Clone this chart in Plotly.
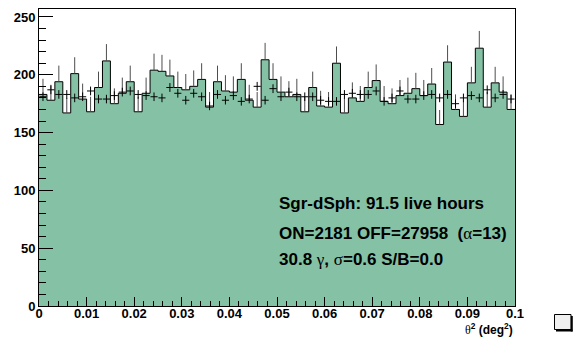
import numpy as np
import plotly.graph_objects as go

# ---------------- data ----------------
x_lo, x_hi, n_bins = 0.0, 0.1, 60
on_counts = [183, 178, 194, 167, 201, 179, 168, 189, 212, 175,
             184, 194, 168, 184, 204, 203, 199, 189, 187, 190,
             196, 172, 194, 186, 185, 196, 178, 172, 213, 196,
             185, 181, 183, 168, 189, 173, 172, 210, 167, 180,
             177, 189, 195, 177, 175, 182, 184, 188, 182, 192,
             157, 211, 170, 164, 193, 223, 172, 193, 185, 170]
off_scaled = [181, 187, 183, 183, 180, 181, 186, 179, 179, 182,
              185, 186, 183, 182, 181, 180, 189, 184, 178, 184,
              181, 173, 183, 178, 182, 177, 179, 190, 178, 188,
              181, 185, 181, 181, 181, 178, 177, 177, 183, 184,
              183, 183, 186, 177, 180, 186, 179, 179, 182, 183,
              180, 183, 175, 180, 182, 180, 187, 180, 183, 179]
alpha = 13
y_ticks = [0, 50, 100, 150, 200, 250]
x_ticks = [0, 0.01, 0.02, 0.03, 0.04, 0.05, 0.06, 0.07, 0.08, 0.09, 0.1]
x_tick_labels = ["0", "0.01", "0.02", "0.03", "0.04", "0.05",
                 "0.06", "0.07", "0.08", "0.09", "0.1"]

# ---------------- derived ----------------
edges = np.linspace(x_lo, x_hi, n_bins + 1)
centers = 0.5 * (edges[:-1] + edges[1:])
binw = (x_hi - x_lo) / n_bins
on = np.array(on_counts, dtype=float)
off = np.array(off_scaled, dtype=float)
on_err = np.sqrt(on)
off_err = np.sqrt(off * alpha) / alpha

GREEN = "#85C2A5"
fig = go.Figure()

# filled ON histogram with step outline
fig.add_trace(go.Scatter(
    x=edges, y=list(on) + [on[-1]], mode="lines",
    line=dict(shape="hv", color="black", width=1),
    fill="tozeroy", fillcolor=GREEN, hoverinfo="skip", showlegend=False))

# ON error bars (upper half visible)
fig.add_trace(go.Scatter(
    x=centers, y=on, mode="markers",
    marker=dict(size=1, color="rgba(0,0,0,0)"),
    error_y=dict(type="data", symmetric=False, array=on_err,
                 arrayminus=np.zeros(n_bins), color="#4d4d4d",
                 thickness=1, width=0),
    hoverinfo="skip", showlegend=False))

# OFF (scaled) crosses
fig.add_trace(go.Scatter(
    x=centers, y=off, mode="markers",
    marker=dict(size=1, color="rgba(0,0,0,0)"),
    error_y=dict(type="data", array=off_err, color="black",
                 thickness=1, width=0),
    error_x=dict(type="constant", value=binw * 0.45, color="black",
                 thickness=1, width=0),
    hoverinfo="skip", showlegend=False))

tickfont = dict(family="Liberation Sans", size=13, color="black", weight="bold")

fig.update_layout(
    width=582, height=337,
    margin=dict(l=39, r=67, t=9, b=31),
    paper_bgcolor="white", plot_bgcolor="white",
    showlegend=False,
    xaxis=dict(range=[x_lo, x_hi], showgrid=False, zeroline=False,
               showline=True, linecolor="black", linewidth=1, mirror=True,
               ticks="inside", ticklen=9, tickwidth=1, tickcolor="black",
               tickmode="array", tickvals=x_ticks, ticktext=x_tick_labels,
               tickfont=tickfont, ticklabelstandoff=-5,
               minor=dict(tick0=0, dtick=0.002,
                          ticks="inside", ticklen=5, tickwidth=1,
                          tickcolor="black", showgrid=False)),
    yaxis=dict(range=[0, 256.9], showgrid=False, zeroline=False,
               showline=True, linecolor="black", linewidth=1, mirror=True,
               ticks="inside", ticklen=14, tickwidth=1, tickcolor="black",
               tickmode="array", tickvals=y_ticks,
               ticktext=[str(v) for v in y_ticks],
               tickfont=tickfont,
               minor=dict(tick0=0, dtick=10, ticks="inside", ticklen=7,
                          tickwidth=1, tickcolor="black", showgrid=False)),
)

GREEK = "<span style='font-family:Liberation Serif;font-weight:normal'>%s</span>"
txt_font = dict(family="Liberation Sans", size=17, color="black")
lines = [
    ("<b>Sgr-dSph: 91.5 live hours</b>", 89.0),
    ("<b>ON=2181 OFF=27958 \u00a0(</b>" + GREEK % "α" + "<b>=13)</b>", 63.0),
    ("<b>30.8 </b>" + GREEK % "γ" + "<b>, </b>" + GREEK % "σ" + "<b>=0.6 S/B=0.0</b>", 40.5),
]
for t, yv in lines:
    fig.add_annotation(x=0.0500, y=yv, xref="x", yref="y", text=t,
                       showarrow=False, xanchor="left", yanchor="middle",
                       font=txt_font)

# axis title
fig.add_annotation(x=1.0, y=-0.078, xref="paper", yref="paper",
                   text=GREEK % "θ" + "<b><sup>2</sup> (deg<sup>2</sup>)</b>",
                   showarrow=False, xanchor="right", yanchor="middle",
                   font=dict(family="Liberation Sans", size=12, color="black"))

# small box at the right (pixel-based paper coords)
def px_x(p):
    return (p - 39) / 476.0

def px_y(p):
    return (306 - p) / 297.0

fig.add_shape(type="rect", xref="paper", yref="paper",
              x0=px_x(554.5), x1=px_x(571), y0=px_y(329.5), y1=px_y(314.5),
              line=dict(color="black", width=1), fillcolor="#f0f0f0")
fig.add_shape(type="line", xref="paper", yref="paper",
              x0=px_x(556), x1=px_x(572.5), y0=px_y(330.5), y1=px_y(330.5),
              line=dict(color="black", width=2))
fig.add_shape(type="line", xref="paper", yref="paper",
              x0=px_x(571.8), x1=px_x(571.8), y0=px_y(316), y1=px_y(331.5),
              line=dict(color="black", width=2))

fig.write_html("out.html")
